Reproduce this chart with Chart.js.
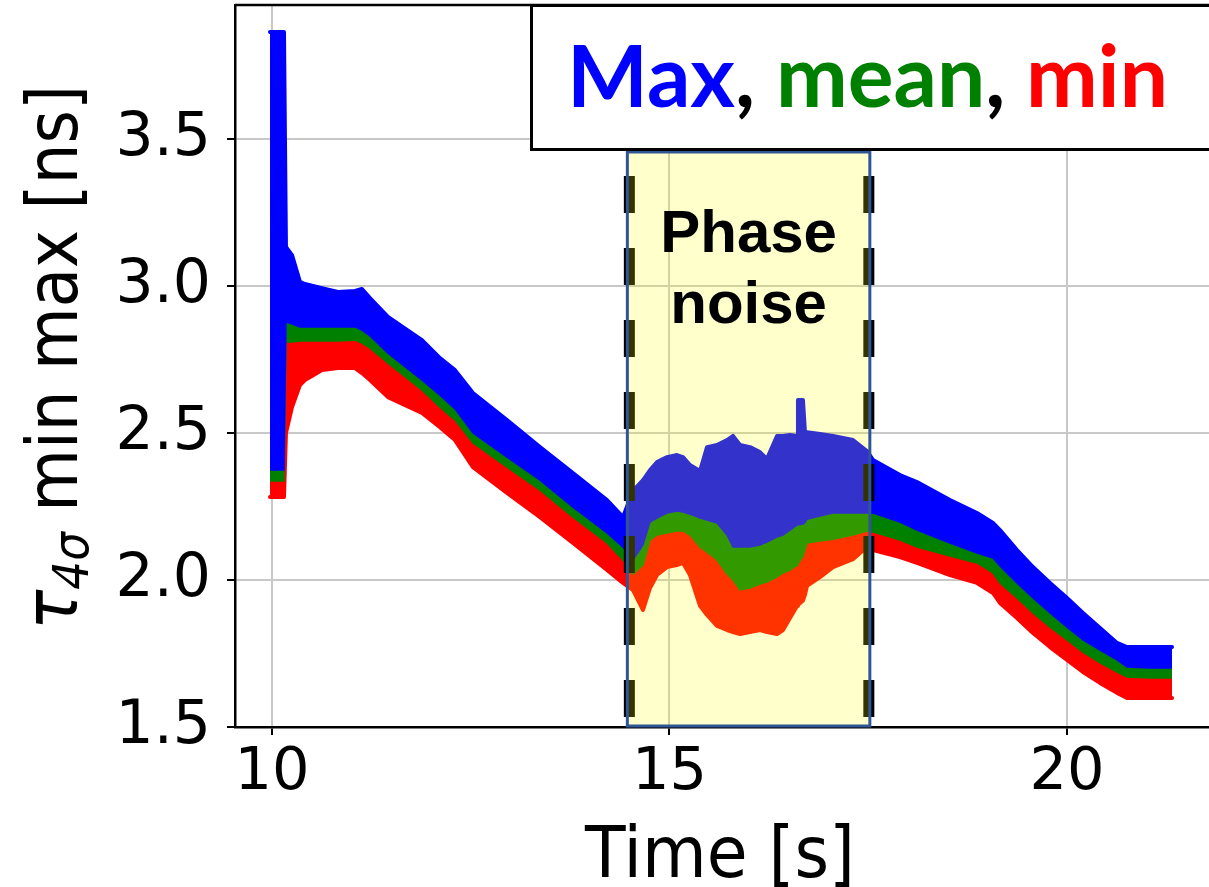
<!DOCTYPE html>
<html><head><meta charset="utf-8">
<script src="https://cdn.jsdelivr.net/npm/chart.js@4/dist/chart.umd.min.js"></script>
<style>html,body{margin:0;padding:0;background:#fff;}</style>
</head><body>
<canvas id="c" width="1209" height="887"></canvas>
<script>
// ---- data (s, ns) ----
const time = [9.975,10.151,10.176,10.252,10.352,10.415,10.629,10.830,11.044,11.132,11.233,11.459,11.887,12.113,12.302,12.528,12.956,13.371,13.786,14.214,14.415,14.541,14.667,14.755,14.843,14.969,15.094,15.170,15.258,15.384,15.472,15.597,15.723,15.799,15.887,16.013,16.138,16.226,16.352,16.428,16.516,16.604,16.616,16.679,16.704,16.730,16.893,17.057,17.308,17.484,17.560,17.899,18.113,18.528,18.868,19.069,19.157,19.371,19.572,19.786,20.000,20.201,20.415,20.629,20.755,21.044,21.321];
// upper edge of the "max" band
const maxUpper = [3.864,3.864,3.133,3.105,3.014,3.007,2.993,2.980,2.983,2.990,2.959,2.895,2.816,2.755,2.714,2.636,2.544,2.452,2.364,2.272,2.214,2.303,2.340,2.374,2.401,2.418,2.425,2.418,2.391,2.371,2.452,2.459,2.476,2.490,2.459,2.452,2.435,2.412,2.490,2.490,2.493,2.490,2.612,2.612,2.503,2.503,2.497,2.490,2.476,2.439,2.408,2.357,2.333,2.272,2.228,2.194,2.170,2.102,2.044,1.990,1.939,1.888,1.837,1.786,1.772,1.772,1.772];
// upper edge of the "mean" band
const meanUpper = [2.374,2.374,2.878,2.871,2.861,2.861,2.861,2.861,2.861,2.850,2.830,2.772,2.680,2.629,2.582,2.500,2.418,2.340,2.248,2.160,2.112,2.068,2.119,2.197,2.211,2.228,2.235,2.231,2.224,2.211,2.204,2.194,2.153,2.112,2.112,2.112,2.119,2.129,2.146,2.153,2.170,2.187,2.187,2.190,2.195,2.207,2.218,2.228,2.228,2.228,2.228,2.197,2.170,2.126,2.092,2.075,2.048,1.990,1.939,1.888,1.840,1.796,1.762,1.728,1.704,1.701,1.701];
// upper edge of the "min" band
const minUpper = [2.337,2.337,2.810,2.810,2.813,2.813,2.813,2.813,2.816,2.806,2.789,2.738,2.646,2.588,2.544,2.466,2.384,2.306,2.214,2.126,2.068,2.020,2.051,2.136,2.153,2.160,2.167,2.167,2.153,2.112,2.095,2.068,2.020,2.000,1.966,1.973,1.986,1.993,2.010,2.024,2.034,2.050,2.055,2.080,2.100,2.126,2.133,2.139,2.153,2.167,2.163,2.136,2.112,2.082,2.058,2.024,1.990,1.939,1.888,1.840,1.796,1.755,1.718,1.687,1.670,1.667,1.667];
// lower edge of the "min" band
const minLower = [2.282,2.282,2.500,2.588,2.663,2.680,2.714,2.721,2.721,2.704,2.680,2.622,2.568,2.520,2.476,2.384,2.296,2.214,2.126,2.034,1.990,1.966,1.898,1.973,2.017,2.044,2.051,2.058,2.017,1.912,1.881,1.844,1.830,1.823,1.816,1.823,1.830,1.823,1.816,1.830,1.871,1.912,1.915,1.930,1.950,1.980,2.010,2.044,2.071,2.112,2.102,2.078,2.058,2.017,1.990,1.956,1.922,1.871,1.820,1.772,1.728,1.687,1.650,1.616,1.599,1.599,1.599];

const xTicks = [10, 15, 20];
const yTicks = [1.5, 2.0, 2.5, 3.0, 3.5];
const phaseWindow = [14.47, 17.52];   // s
const phaseTop = 3.456;               // ns
const phaseLabel = ['Phase', 'noise'];
const legendParts = [['Max', '#0000ff'], [', ', '#000000'], ['mean', '#008000'], [', ', '#000000'], ['min', '#ff0000']];
const xTitle = 'Time [s]';

const pts = arr => time.map((t, i) => ({x: t, y: arr[i]}));
const BLUE = '#0000ff', GREEN = '#008000', RED = '#ff0000';

const overlay = {
  id: 'overlay',
  afterDatasetsDraw(chart) {
    const ctx = chart.ctx, xs = chart.scales.x, ys = chart.scales.y;
    const x0 = xs.getPixelForValue(phaseWindow[0]);
    const x1 = xs.getPixelForValue(phaseWindow[1]);
    const yT = ys.getPixelForValue(phaseTop);
    const yB = ys.getPixelForValue(1.5);
    ctx.save();
    ctx.strokeStyle = '#000'; ctx.lineWidth = 11;
    ctx.setLineDash([37, 35]); ctx.lineDashOffset = 48;
    [x0 + 2, x1 - 1].forEach(x => {
      ctx.beginPath(); ctx.moveTo(x, yT); ctx.lineTo(x, yB); ctx.stroke();
    });
    ctx.setLineDash([]);
    ctx.fillStyle = 'rgba(255,255,0,0.2)';
    ctx.fillRect(x0, yT, x1 - x0, yB - yT);
    ctx.strokeStyle = '#2f5597'; ctx.lineWidth = 3;
    ctx.strokeRect(x0, yT, x1 - x0, yB - yT - 1);
    ctx.fillStyle = '#000';
    ctx.font = 'bold 60px "Liberation Sans", Arial, sans-serif';
    ctx.textAlign = 'center'; ctx.textBaseline = 'alphabetic';
    const cx = (x0 + x1) / 2;
    ctx.fillText(phaseLabel[0], cx, 252);
    ctx.fillText(phaseLabel[1], cx, 323);
    ctx.restore();
  },
  afterDraw(chart) {
    const ctx = chart.ctx, a = chart.chartArea;
    ctx.save();
    ctx.strokeStyle = '#000'; ctx.lineWidth = 2.5;
    ctx.beginPath(); ctx.moveTo(a.left, a.top); ctx.lineTo(a.right, a.top); ctx.stroke();
    ctx.fillStyle = '#fff';
    ctx.fillRect(531, 5, 690, 145);
    ctx.lineWidth = 3; ctx.strokeStyle = '#000';
    ctx.strokeRect(531.5, 5.5, 690, 144);
    let size = 80;
    ctx.font = `bold ${size}px Lato, "Open Sans", sans-serif`;
    let w = legendParts.reduce((s, p) => s + ctx.measureText(p[0]).width, 0);
    size = size * 601 / w;
    ctx.font = `bold ${size}px Lato, "Open Sans", sans-serif`;
    w = legendParts.reduce((s, p) => s + ctx.measureText(p[0]).width, 0);
    let x = 867.5 - w / 2;
    ctx.textBaseline = 'alphabetic'; ctx.textAlign = 'left';
    legendParts.forEach(p => { ctx.fillStyle = p[1]; ctx.fillText(p[0], x, 107); x += ctx.measureText(p[0]).width; });

    ctx.fillStyle = '#000';
    ctx.font = '71px "DejaVu Sans", sans-serif';
    const tw = ctx.measureText(xTitle).width;
    ctx.save();
    ctx.translate(585, 877); ctx.scale(270 / tw, 1);
    ctx.fillText(xTitle, 0, 0);
    ctx.restore();

    const parts = [
      {t: 'τ', f: 'italic 74px "DejaVu Sans", sans-serif', dy: 0},
      {t: '4σ', f: 'italic 50px "DejaVu Sans", sans-serif', dy: 11},
      {t: ' min max [ns]', f: '71px "DejaVu Sans", sans-serif', dy: 0}
    ];
    let tot = 0;
    parts.forEach(p => { ctx.font = p.f; p.w = ctx.measureText(p.t).width; tot += p.w; });
    ctx.save();
    ctx.translate(77, 630); ctx.rotate(-Math.PI / 2); ctx.scale(545 / tot, 1);
    let px = 0;
    parts.forEach(p => { ctx.font = p.f; ctx.fillText(p.t, px, p.dy); px += p.w; });
    ctx.restore();
    ctx.restore();
  }
};

new Chart(document.getElementById('c'), {
  type: 'line',
  data: {
    datasets: [
      {data: pts(maxUpper), borderColor: BLUE, backgroundColor: BLUE, borderWidth: 4, borderJoinStyle: 'round', borderCapStyle: 'round', fill: false, pointRadius: 0},
      {data: pts(meanUpper), borderColor: BLUE, backgroundColor: BLUE, borderWidth: 1.5, fill: '-1', pointRadius: 0},
      {data: pts(minUpper), borderColor: GREEN, backgroundColor: GREEN, borderWidth: 1.5, fill: '-1', pointRadius: 0},
      {data: pts(minLower), borderColor: RED, backgroundColor: RED, borderWidth: 4, borderJoinStyle: 'round', borderCapStyle: 'round', fill: '-1', pointRadius: 0}
    ]
  },
  options: {
    responsive: false, animation: false, devicePixelRatio: 1,
    layout: {padding: {left: 0, right: 0, top: 5, bottom: 0}},
    plugins: {legend: {display: false}, tooltip: {enabled: false}, filler: {drawTime: 'beforeDatasetDraw'}},
    scales: {
      x: {
        type: 'linear', min: 9.535, max: 21.786,
        afterBuildTicks: s => { s.ticks = xTicks.map(v => ({value: v})); },
        afterFit: s => { s.height = 160; s.paddingLeft = 0; s.paddingRight = 0; },
        grid: {color: '#c8c8c8', lineWidth: 2, tickColor: '#000', tickLength: 8, tickWidth: 2},
        border: {color: '#000', width: 2.5},
        ticks: {font: {family: 'DejaVu Sans', size: 59}, color: '#000', padding: 3, maxRotation: 0, autoSkip: false}
      },
      y: {
        type: 'linear', min: 1.5, max: 3.956,
        afterBuildTicks: s => { s.ticks = yTicks.map(v => ({value: v})); },
        afterFit: s => { s.width = 235; s.paddingTop = 0; s.paddingBottom = 0; },
        grid: {color: '#c8c8c8', lineWidth: 2, tickColor: '#000', tickLength: 8, tickWidth: 2},
        border: {color: '#000', width: 2.5},
        ticks: {font: {family: 'DejaVu Sans', size: 60}, color: '#000', padding: 16, callback: v => v.toFixed(1)}
      }
    }
  },
  plugins: [overlay]
});
</script>
</body></html>
